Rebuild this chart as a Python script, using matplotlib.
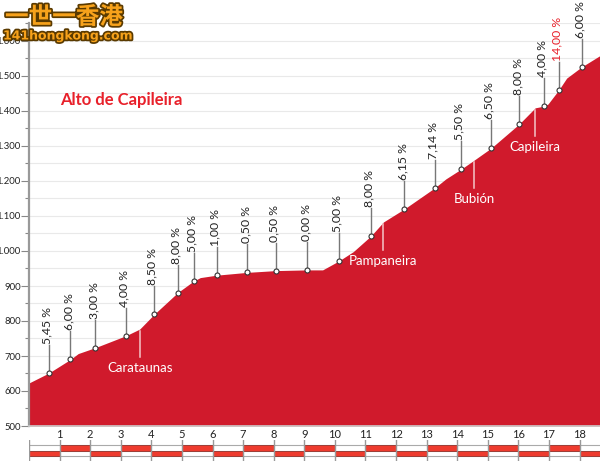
import numpy as np
import matplotlib
matplotlib.use("Agg")
import matplotlib.pyplot as plt
import matplotlib.patheffects as pe
from matplotlib.ticker import FuncFormatter, MultipleLocator

plt.rcParams['font.family'] = ['Lato', 'DejaVu Sans']

# profile (km, altitude m)
profile_km = [0.0, 0.64, 1.35, 1.61, 2.17, 3.17, 3.62, 4.09, 4.86, 5.38, 5.6,
              6.14, 7.14, 8.07, 9.1, 9.6, 10.12, 10.6, 11.18, 11.59, 12.27,
              13.26, 13.63, 14.13, 14.56, 15.11, 16.03, 16.55, 16.84, 16.97,
              17.32, 17.58, 18.07, 18.7]
profile_alt = [623, 651, 690, 707, 724, 758, 777, 819, 881, 914, 924,
               931, 939, 944, 946, 946, 971, 998, 1043, 1083, 1120,
               1180, 1206, 1234, 1260, 1294, 1363, 1409, 1414, 1420,
               1460, 1494, 1526, 1560]

# gradient markers
grade_km = [0.64, 1.35, 2.17, 3.17, 4.09, 4.86, 5.38, 6.14, 7.14, 8.07, 9.1,
            10.12, 11.18, 12.27, 13.26, 14.13, 15.11, 16.03, 16.84, 17.32, 18.07]
grade_alt = [651, 690, 724, 758, 819, 881, 914, 931, 939, 944, 946,
             971, 1043, 1120, 1180, 1234, 1294, 1363, 1414, 1460, 1526]
grade_txt = ["5,45 %", "6,00 %", "3,00 %", "4,00 %", "8,50 %", "8,00 %", "5,00 %",
             "1,00 %", "0,50 %", "0,50 %", "0,00 %", "5,00 %", "8,00 %", "6,15 %",
             "7,14 %", "5,50 %", "6,50 %", "8,00 %", "4,00 %", "14,00 %", "6,00 %"]

# villages
town_names = ["Carataunas", "Pampaneira", "Bubión", "Capileira"]
town_km = [3.62, 11.59, 14.56, 16.55]
town_alt = [777, 1083, 1260, 1409]

km_ticks = list(range(1, 19))

RED = '#d01a2c'
W, H = 600, 461
fig = plt.figure(figsize=(6, 4.61), dpi=100)
x0 = 29 / W
ax = fig.add_axes([x0, (H - 426) / H, 1 - x0, (426 - 23.5) / H])
ax.set_xlim(0, 18.67)
ax.set_ylim(500, 1650)

ax.yaxis.set_major_locator(MultipleLocator(100))
ax.yaxis.set_minor_locator(MultipleLocator(50))
ax.yaxis.set_major_formatter(FuncFormatter(lambda v, p: f"{int(v):,}".replace(",", ".")))
ax.grid(axis='y', which='both', color='#e9e9e9', lw=0.8, zorder=0)
ax.tick_params(axis='y', which='major', length=5.5, width=0.8, color='#888888',
               labelsize=6.8, labelcolor='#222222', pad=0.5)
ax.tick_params(axis='y', which='minor', length=3, width=0.8, color='#888888')
ax.set_xticks(km_ticks)
ax.set_xticklabels([str(k) for k in km_ticks])
ax.tick_params(axis='x', length=0, labelsize=8, labelcolor='#222222', pad=2)
for s in ['top', 'right']:
    ax.spines[s].set_visible(False)
ax.spines['left'].set_color('#999999')
ax.spines['left'].set_linewidth(1.6)
ax.spines['bottom'].set_color('#cccccc')
ax.spines['bottom'].set_linewidth(1.2)

ax.fill_between(profile_km, 500, profile_alt, color=RED, lw=0, zorder=2)

# gradient labels
gap = 80
for k, a, t in zip(grade_km, grade_alt, grade_txt):
    ax.plot([k, k], [a, a + gap], color='#777777', lw=1, zorder=3)
    ax.plot(k, a, 'o', ms=3.6, mfc='white', mec='#333333', mew=0.8, zorder=4)
    col = '#e8202a' if t.startswith("14") else '#222222'
    ax.text(k - 0.06, a + gap + 3, t, rotation=90, ha='center', va='bottom',
            fontsize=8.8, color=col, zorder=4)

# village labels
for n, k, a in zip(town_names, town_km, town_alt):
    ax.plot([k, k], [a - 5, a - 80], color='#f4c6c8', lw=1.1, zorder=3)
    ax.text(k, a - 112, n, ha='center', va='center', fontsize=9.5,
            color='white', zorder=4)

ax.text(0.055, 0.81, "Alto de Capileira", transform=ax.transAxes, fontsize=12,
        fontweight='bold', color='#e8202a', ha='left', va='center')

# km strip
ax2 = fig.add_axes([x0, 0, 1 - x0, (H - 440) / H])
ax2.set_xlim(ax.get_xlim())
ax2.set_ylim(0, 21)
ax2.axis('off')
for yy in [5, 10.5, 16]:
    ax2.axhline(yy, color='#aaaaaa', lw=0.8, zorder=1)
for i in range(19):
    yb = 10.5 if i % 2 == 1 else 5
    ax2.add_patch(plt.Rectangle((i, yb), 1, 5.5, facecolor='#ee3b2e',
                                edgecolor='#8a2a22', lw=0.5, zorder=2))
    ax2.axvline(i, color='#999999', lw=1, zorder=3)

# watermark
fx = pe.withStroke(linewidth=2.5, foreground='#5a3a00')
fig.text(5 / W, 1 - 17 / H, "一世一香港", family=['Noto Sans CJK SC', 'DejaVu Sans'],
         fontsize=17, fontweight='bold', color='#f7a21b', va='center', ha='left',
         path_effects=[fx])
fig.text(3 / W, 1 - 36 / H, "141hongkong.com", family=['DejaVu Sans'],
         fontsize=9, fontweight='bold', color='#f7a21b', va='center', ha='left',
         path_effects=[fx])

fig.savefig("out.png", dpi=100)
